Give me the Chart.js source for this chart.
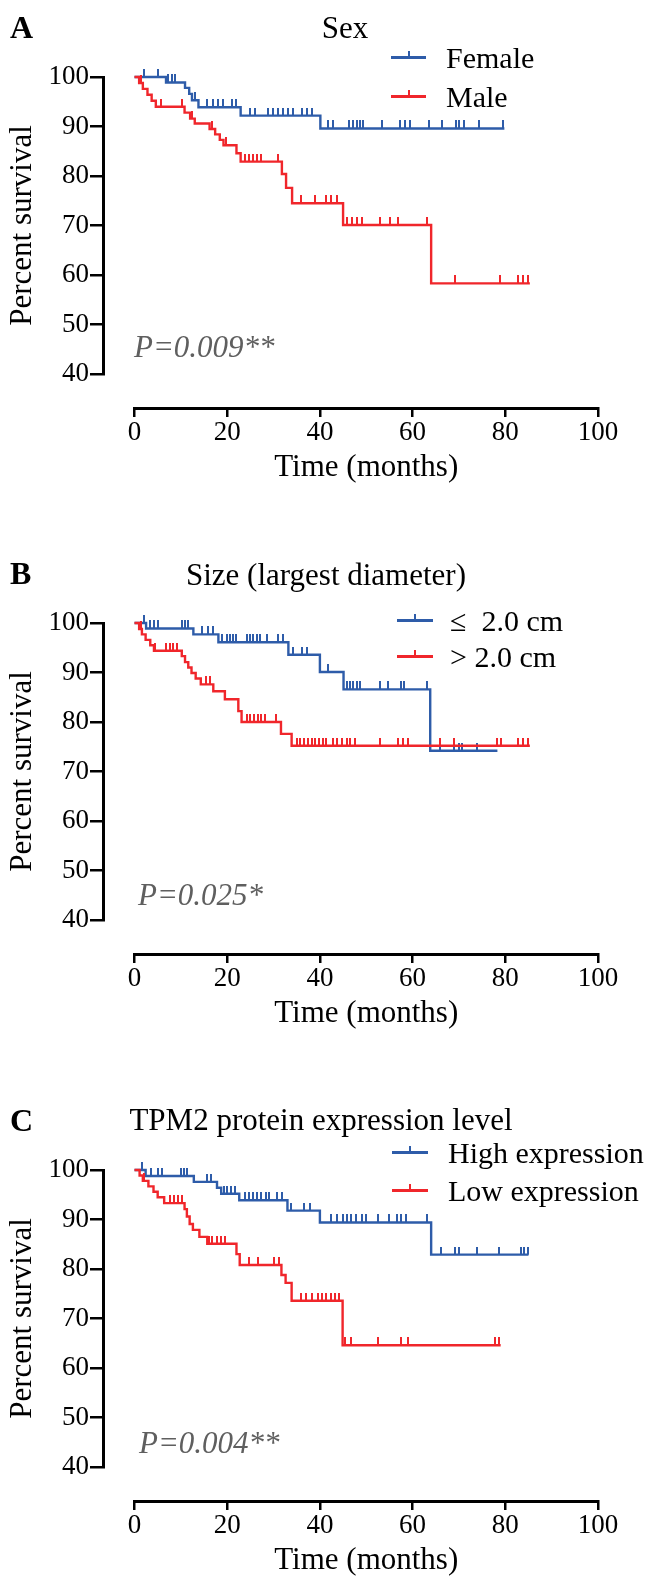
<!DOCTYPE html>
<html>
<head>
<meta charset="utf-8">
<script src="https://cdn.jsdelivr.net/npm/chart.js@4.4.1/dist/chart.umd.min.js"></script>
<style>
  body { margin: 0; width: 651px; height: 1576px; overflow: hidden; background: #fff;
         font-family: "Liberation Serif", "Times New Roman", serif; }
  .panel { position: absolute; left: 0; width: 651px; height: 546px; }
  .panel canvas { position: absolute; left: 0; top: 0; }
  .txt { position: absolute; white-space: pre; line-height: 1.1; transform: translateY(-50%); color: #000; }
  .sym { position: absolute; height: 2.5px; }
  .sym i { position: absolute; left: 50%; bottom: 0; width: 2px; height: 8px; margin-left: -1px; background: inherit; }
</style>
</head>
<body>
<script>
const family = '"Liberation Serif", "Times New Roman", serif';
const blue = '#2E5CA9';
const red = '#F0262B';

// axis ticks
const timeTicks = [0, 20, 40, 60, 80, 100];
const survivalTicks = [40, 50, 60, 70, 80, 90, 100];

// A: Sex
const femaleTimes = [6.8, 10.9, 11.8, 12.4, 13.8, 22.9, 40.1];
const femaleSurv = [98.9, 97.8, 96.6, 95.3, 93.9, 92.2, 89.6];
const femaleCensored = [2.0, 5.1, 7.3, 8.0, 8.7, 13.1, 15.7, 17.0, 18.1, 19.2, 21.0, 22.0, 24.9, 26.0, 28.9, 29.9, 31.0, 32.1, 33.2, 34.3, 36.2, 37.3, 38.4,
  41.8, 42.9, 46.3, 47.1, 47.9, 48.6, 49.4, 53.4, 57.3, 58.4, 59.5, 63.5, 66.4, 69.3, 70.0, 71.1, 74.3, 79.4];
const femaleEnd = 79.8;

const maleTimes = [1.0, 1.8, 2.8, 3.7, 4.6, 10.8, 12.0, 13.0, 16.2, 17.4, 18.4, 19.2, 22.0, 22.9, 31.8, 32.7, 34.0, 45.0, 64.0];
const maleSurv = [98.8, 97.6, 96.4, 95.2, 94.0, 92.8, 91.6, 90.6, 89.5, 88.4, 87.3, 86.2, 84.6, 82.9, 80.4, 77.6, 74.5, 70.1, 58.3];
const maleCensored = [1.5, 5.8, 10.2, 12.5, 16.8, 19.8, 23.8, 24.7, 25.6, 26.5, 27.4, 30.9, 35.9, 39.0, 41.3, 42.4, 43.6,
  45.8, 46.9, 47.9, 49.0, 53.0, 55.2, 56.9, 63.0, 69.1, 78.9, 82.8, 83.9, 85.0];
const maleEnd = 85.3;

// B: Size
const smallTimes = [2.5, 12.7, 18.1, 33.2, 40.0, 45.1, 63.8];
const smallSurv = [98.9, 97.7, 96.1, 93.6, 90.1, 86.6, 74.2];
const smallCensored = [2.0, 3.3, 4.1, 5.1, 10.2, 10.9, 11.6, 14.5, 15.9, 17.0, 18.8, 19.9, 20.6, 21.3, 22.0, 24.2, 24.9, 25.6, 26.4, 27.1, 28.5,
  31.0, 32.1, 34.3, 36.1, 37.2, 41.8, 45.8, 46.5, 47.2, 48.0, 48.7, 53.0, 54.8, 57.4, 58.2, 63.0, 66.0, 68.9, 70.0, 70.7, 74.0];
const smallEnd = 78.3;

const largeTimes = [1.0, 1.6, 2.4, 3.4, 4.2, 10.2, 10.9, 11.6, 12.3, 13.2, 14.3, 17.0, 19.5, 22.4, 23.1, 31.6, 33.9];
const largeSurv = [98.8, 97.7, 96.6, 95.5, 94.4, 93.3, 92.1, 91.0, 89.9, 88.8, 87.6, 86.2, 84.6, 82.2, 80.0, 77.6, 75.2];
const largeCensored = [1.3, 4.5, 6.9, 7.6, 8.3, 9.1, 15.5, 16.2, 24.2, 25.0, 25.8, 26.6, 27.4, 28.2, 30.5, 35.0, 35.8, 36.6, 37.4, 38.2,
  39.0, 39.8, 40.6, 41.4, 42.9, 43.6, 44.7, 45.8, 46.5, 47.6, 53.0, 56.9, 57.9, 59.0, 66.0, 68.9, 78.3, 79.0, 82.8, 83.9, 85.0];
const largeEnd = 85.3;

// C: TPM2 expression
const highTimes = [2.4, 12.8, 17.8, 18.7, 22.6, 33.0, 40.0, 64.0];
const highSurv = [98.8, 97.6, 96.4, 95.2, 93.9, 91.8, 89.4, 82.9];
const highCensored = [1.7, 3.5, 5.1, 6.0, 10.0, 10.7, 11.4, 15.7, 16.6, 19.3, 20.0, 20.8, 21.7, 23.8, 24.7, 25.6, 26.5, 27.4, 28.3, 29.1,
  30.7, 31.8, 33.8, 36.5, 37.8, 42.3, 43.7, 45.0, 45.9, 46.8, 47.7, 49.1, 50.0, 52.6, 54.9, 56.7, 57.6, 58.5, 63.0,
  66.1, 69.2, 70.1, 74.0, 78.7, 83.3, 84.0, 84.8];
const highEnd = 85.0;

const lowTimes = [1.1, 1.8, 3.0, 4.1, 5.0, 6.4, 10.8, 11.3, 11.9, 12.6, 14.0, 15.7, 22.0, 22.7, 31.7, 32.6, 33.9, 44.9];
const lowSurv = [98.9, 97.8, 96.7, 95.6, 94.5, 93.3, 92.1, 90.6, 89.1, 87.9, 86.5, 85.1, 83.0, 80.8, 78.8, 77.2, 73.6, 64.6];
const lowCensored = [2.0, 7.6, 8.5, 9.4, 10.3, 16.1, 16.8, 17.7, 18.6, 19.5, 24.8, 26.6, 30.2, 31.1, 36.0, 37.0, 38.3, 39.6,
  40.5, 41.4, 42.3, 43.2, 44.1, 45.5, 46.8, 52.6, 57.6, 58.9, 77.8, 78.7];
const lowEnd = 79.0;

const panels = [
  { top: 0, letter: 'A', title: 'Sex', titleX: 345, titleY: 28, pText: 'P=0.009**', pX: 134, pY: 347,
    legX: 391, legW: 35, legTextX: 446, legY: [57, 96],
    groups: [
      { label: 'Female', color: blue, times: femaleTimes, surv: femaleSurv, censored: femaleCensored, end: femaleEnd },
      { label: 'Male', color: red, times: maleTimes, surv: maleSurv, censored: maleCensored, end: maleEnd }
    ] },
  { top: 546, letter: 'B', title: 'Size (largest diameter)', titleX: 326, titleY: 29, pText: 'P=0.025*', pX: 138, pY: 349,
    legX: 397, legW: 36, legTextX: 450, legY: [74, 110],
    groups: [
      { label: '\u2264  2.0 cm', color: blue, times: smallTimes, surv: smallSurv, censored: smallCensored, end: smallEnd },
      { label: '> 2.0 cm', color: red, times: largeTimes, surv: largeSurv, censored: largeCensored, end: largeEnd }
    ] },
  { top: 1093, letter: 'C', title: 'TPM2 protein expression level', titleX: 321, titleY: 27, pText: 'P=0.004**', pX: 139, pY: 350,
    legX: 392, legW: 36, legTextX: 448, legY: [59, 97],
    groups: [
      { label: 'High expression', color: blue, times: highTimes, surv: highSurv, censored: highCensored, end: highEnd },
      { label: 'Low expression', color: red, times: lowTimes, surv: lowSurv, censored: lowCensored, end: lowEnd }
    ] }
];

function survivalAt(times, surv, t) {
  let s = 100;
  for (let i = 0; i < times.length; i++) if (times[i] <= t) s = surv[i];
  return s;
}

// small vertical censor mark sitting on top of the curve
function censorMark(color) {
  const c = document.createElement('canvas');
  c.width = 2; c.height = 16;
  const g = c.getContext('2d');
  g.fillStyle = color;
  g.fillRect(0, 0, 2, 8);
  return c;
}

function addText(parent, text, x, y, css) {
  const d = document.createElement('div');
  d.className = 'txt';
  d.textContent = text;
  d.style.left = x + 'px';
  d.style.top = y + 'px';
  Object.assign(d.style, css || {});
  parent.appendChild(d);
  return d;
}

panels.forEach(p => {
  const div = document.createElement('div');
  div.className = 'panel';
  div.style.top = p.top + 'px';
  document.body.appendChild(div);
  const canvas = document.createElement('canvas');
  canvas.width = 651; canvas.height = 546;
  div.appendChild(canvas);

  const datasets = [];
  p.groups.forEach((g, gi) => {
    const pts = [{ x: 0, y: 100 }];
    g.times.forEach((t, i) => pts.push({ x: t, y: g.surv[i] }));
    pts.push({ x: g.end, y: g.surv[g.surv.length - 1] });
    const base = gi === 0 ? 4 : 2; // second group (red) drawn on top
    datasets.push({
      type: 'line', label: g.label, data: pts, stepped: 'before',
      borderColor: g.color, borderWidth: 2.4, pointRadius: 0, fill: false, order: base, clip: false
    });
    datasets.push({
      type: 'scatter', data: g.censored.map(t => ({ x: t, y: survivalAt(g.times, g.surv, t) })),
      pointStyle: censorMark(g.color), pointRadius: 3, pointHoverRadius: 3, showLine: false, order: base - 1, clip: false
    });
  });

  new Chart(canvas, {
    type: 'line',
    data: { datasets },
    options: {
      responsive: false,
      animation: false,
      devicePixelRatio: 1,
      layout: { padding: { top: 77, right: 53, bottom: 58, left: 0 } },
      plugins: { legend: { display: false }, tooltip: { enabled: false } },
      scales: {
        x: {
          type: 'linear', position: 'bottom', weight: 1, min: 0, max: 100,
          afterBuildTicks: s => { s.ticks = timeTicks.map(v => ({ value: v })); },
          afterFit: s => { s.height = 80; },
          border: { display: true, width: 3, color: '#000' },
          grid: { drawOnChartArea: false, drawTicks: true, tickLength: 9, lineWidth: 2.5, color: '#000' },
          ticks: { font: { family, size: 27 }, color: '#000', padding: 0, maxRotation: 0 },
          title: { display: true, text: 'Time (months)', font: { family, size: 31 }, color: '#000', padding: { top: 0, bottom: 2 } }
        },
        xGap: {
          type: 'linear', position: 'bottom', weight: 0, min: 0, max: 1,
          ticks: { display: false }, grid: { display: false }, border: { display: false },
          afterFit: s => { s.height = 34; }
        },
        y: {
          type: 'linear', position: 'left', weight: 1, min: 40, max: 100,
          afterBuildTicks: s => { s.ticks = survivalTicks.map(v => ({ value: v })); },
          afterFit: s => { s.width = 103; },
          border: { display: true, width: 3, color: '#000' },
          grid: { drawOnChartArea: false, drawTicks: true, tickLength: 13, lineWidth: 2.5, color: '#000' },
          ticks: { font: { family, size: 27 }, color: '#000', padding: 1 },
          title: { display: true, text: 'Percent survival', font: { family, size: 31 }, color: '#000', padding: { top: 4, bottom: 0 } }
        },
        yGap: {
          type: 'linear', position: 'left', weight: 0, min: 0, max: 1,
          ticks: { display: false }, grid: { display: false }, border: { display: false },
          afterFit: s => { s.width = 31.5; }
        }
      }
    }
  });

  // panel letter, title, p-value
  addText(div, p.letter, 10, 28, { fontSize: '32px', fontWeight: 'bold' });
  const t = addText(div, p.title, p.titleX, p.titleY, { fontSize: '31px' });
  t.style.transform = 'translate(-50%, -50%)';
  addText(div, p.pText, p.pX, p.pY, { fontSize: '31px', fontStyle: 'italic', color: '#5f5f5f' });

  // legend
  p.groups.forEach((g, i) => {
    const s = document.createElement('div');
    s.className = 'sym';
    s.style.left = p.legX + 'px';
    s.style.width = p.legW + 'px';
    s.style.top = (p.legY[i] - 1) + 'px';
    s.style.background = g.color;
    s.appendChild(document.createElement('i'));
    div.appendChild(s);
    addText(div, g.label, p.legTextX, p.legY[i], { fontSize: '30px' });
  });
});
</script>
</body>
</html>
